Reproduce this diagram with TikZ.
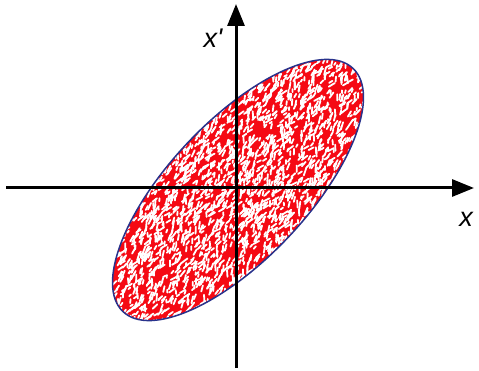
\documentclass[tikz,border=0pt]{standalone}
\usepackage{fontspec}
\setmainfont{Liberation Sans}
\usetikzlibrary{arrows.meta}
\definecolor{speckred}{RGB}{245,10,20}
\definecolor{rimblue}{RGB}{40,50,140}
\tikzset{
  axis/.style={line width=3pt, -{Triangle[length=22pt,width=17pt]}},
  rim/.style={draw=rimblue, line width=1.5pt},
  lbl/.style={font=\fontsize{27}{30}\selectfont\itshape, inner sep=0pt}
}
\begin{document}
\begin{tikzpicture}[x=1pt,y=1pt]
\useasboundingbox (0,0) rectangle (479,-371);
\coordinate (c) at (238,-190);
% speckled fill
\begin{scope}
  \clip (c) ellipse[x radius=167.4, y radius=69, rotate=46.6];
  \fill[speckred] (c) ellipse[x radius=168, y radius=70, rotate=46.6];
  \pgfmathsetseed{4242}
  \begin{scope}[shift={(c)}, rotate=46.6]
    \foreach \i in {1,...,2400}{
      \pgfmathsetmacro\u{rand*168}
      \pgfmathsetmacro\v{rand*70}
      \pgfmathsetmacro\a{rand*35+15}
      \pgfmathsetmacro\l{1.2+rnd*2.5}
      \draw[white, line width=1.8pt, line cap=round]
        ([shift={(\a:-\l)}]\u,\v) -- ([shift={(\a:\l)}]\u,\v);
    }
  \end{scope}
\end{scope}
\draw[rim] (c) ellipse[x radius=167.4, y radius=69, rotate=46.6];
% axes
\coordinate (xl) at (6,-188);
\coordinate (xr) at (474,-188);
\coordinate (yb) at (236,-368);
\coordinate (yt) at (236,-4);
\draw[axis] (xl) -- (xr);
\draw[axis] (yb) -- (yt);
\node[lbl] (xlab) at (466,-219) {x};
\node[lbl] (xplab) at (213,-38) {x\textquotesingle};
\end{tikzpicture}
\end{document}
